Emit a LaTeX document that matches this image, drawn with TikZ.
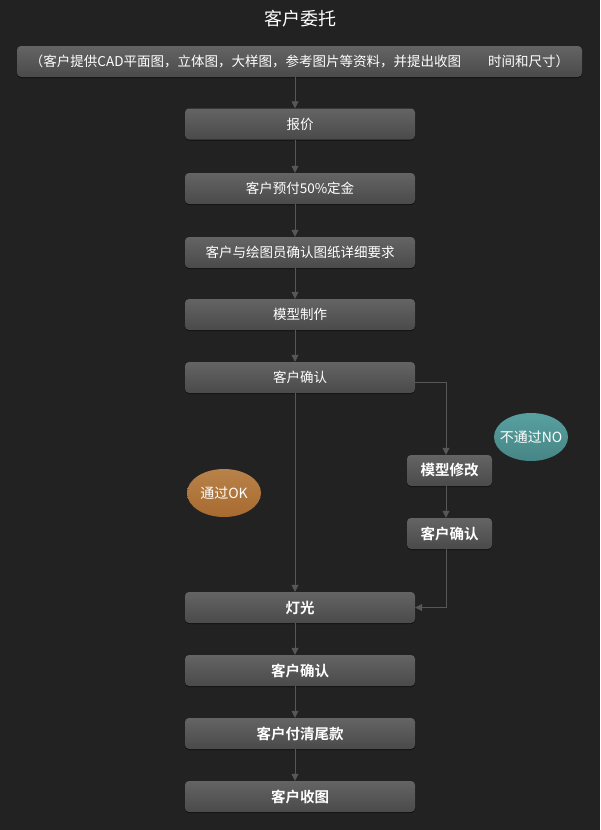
\documentclass[tikz,border=0pt]{standalone}
\usepackage{fontspec}
\usepackage{tikz}
\usetikzlibrary{arrows.meta,shapes.geometric,shadows}
\setmainfont{Noto Sans CJK SC}[BoldFont={Noto Sans CJK SC Bold}]
\definecolor{bgdark}{HTML}{222222}
\definecolor{boxtop}{HTML}{646464}
\definecolor{boxbot}{HTML}{4A4A4A}
\definecolor{linkcol}{HTML}{575757}
\definecolor{okcol}{HTML}{A86A30}
\definecolor{okcolhi}{HTML}{B8824A}
\definecolor{nocol}{HTML}{478585}
\definecolor{nocolhi}{HTML}{58A0A0}
\tikzset{
  stepbox/.style={rectangle,rounded corners=4pt,top color=boxtop,bottom color=boxbot,
    minimum height=31pt,inner sep=0pt,text=white,font=\fontsize{13.5}{15}\selectfont,
    drop shadow={shadow xshift=0pt,shadow yshift=-1pt,opacity=0.5,fill=black}},
  widebox/.style={stepbox,minimum width=230pt},
  smallbox/.style={stepbox,minimum width=85pt},
  boldtext/.style={font=\fontsize{14.5}{16}\selectfont\bfseries},
  tagoval/.style={ellipse,minimum width=74pt,minimum height=48pt,inner xsep=-12pt,inner ysep=0pt,
    text=white,font=\fontsize{14}{15}\selectfont},
  arr/.style={draw=linkcol,line width=0.8pt,-{Triangle[length=7pt,width=7pt,fill=linkcol]}}
}
\begin{document}
\begin{tikzpicture}[x=1pt,y=-1pt]
\fill[bgdark] (0,0) rectangle (600,830);
\coordinate (spine) at (295,0);
\coordinate (side) at (446,0);
\node[text=white,font=\fontsize{18}{20}\selectfont] (title) at (300,19) {客户委托};
\node[stepbox,minimum width=565pt] (brief) at (299.5,61.5) {（客户提供CAD平面图，立体图，大样图，参考图片等资料，并提出收图\hspace{2em}时间和尺寸）};
\node[widebox] (quote) at (300,124) {报价};
\node[widebox] (deposit) at (300,188.5) {客户预付50\%定金};
\node[widebox] (spec) at (300,252.5) {客户与绘图员确认图纸详细要求};
\node[widebox] (model) at (300,314.5) {模型制作};
\node[widebox] (check1) at (300,377.5) {客户确认};
\node[smallbox,boldtext] (revise) at (449.5,470.5) {模型修改};
\node[smallbox,boldtext] (check2) at (449.5,533.5) {客户确认};
\node[widebox,boldtext] (light) at (300,607.5) {灯光};
\node[widebox,boldtext] (check3) at (300,670.5) {客户确认};
\node[widebox,boldtext] (pay) at (300,733.5) {客户付清尾款};
\node[widebox,boldtext] (receive) at (300,796.5) {客户收图};
\node[tagoval,top color=okcolhi,bottom color=okcol] (ok) at (224,493) {通过OK};
\node[tagoval,top color=nocolhi,bottom color=nocol] (no) at (531,437) {不通过NO};
% main line
\draw[arr] (brief.south -| spine) -- (quote.north -| spine);
\draw[arr] (quote.south -| spine) -- (deposit.north -| spine);
\draw[arr] (deposit.south -| spine) -- (spec.north -| spine);
\draw[arr] (spec.south -| spine) -- (model.north -| spine);
\draw[arr] (model.south -| spine) -- (check1.north -| spine);
\draw[arr] (check1.south -| spine) -- (light.north -| spine);
\draw[arr] (light.south -| spine) -- (check3.north -| spine);
\draw[arr] (check3.south -| spine) -- (pay.north -| spine);
\draw[arr] (pay.south -| spine) -- (receive.north -| spine);
% side loop
\draw[arr] ([yshift=-4.5pt]check1.east) -| (revise.north -| side);
\draw[arr] (revise.south -| side) -- (check2.north -| side);
\draw[arr] (check2.south -| side) |- (light.east);
\end{tikzpicture}
\end{document}
